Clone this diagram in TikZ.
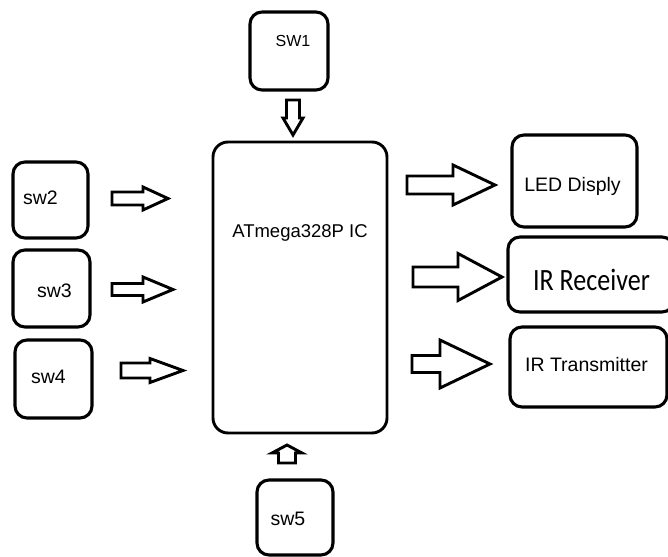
\documentclass[tikz,border=0pt]{standalone}
\usepackage{fontspec}
\setmainfont{Liberation Sans}
\newfontfamily\carlito{Carlito}
\usepackage{graphicx}
\tikzset{
  box/.style={draw=black, line width=3.1pt, rounded corners=12pt, fill=white, inner sep=0pt},
  mainbox/.style={draw=black, line width=2.9pt, rounded corners=15pt, inner sep=0pt},
  lbl/.style={inner sep=0pt, font=\fontsize{19.5}{22}\selectfont},
  barrow/.style={draw=black, line width=2.9pt, line join=miter, fill=white}
}
\newcommand\blkarrow[7]{%
  \begin{scope}[shift={(#1,#2)}, rotate=#3]
    \draw[barrow] (0,-#6) -- (#4,-#6) -- (#4,-#7) -- (#4+#5,0) -- (#4,#7) -- (#4,#6) -- (0,#6) -- cycle;
  \end{scope}}
\begin{document}
\begin{tikzpicture}[x=1pt,y=-1pt]
\useasboundingbox (0,0) rectangle (668,556);
\clip (0,0) rectangle (668,556);
\fill[white] (0,0) rectangle (668,556);
% main IC
\node[mainbox, minimum width=174pt, minimum height=291pt] (ic) at (300,287.5) {};
\node[lbl, font=\fontsize{18.5}{22}\selectfont] (ict) at (300,233) {ATmega328P IC};
% switches
\node[box, minimum width=78pt, minimum height=78pt] (sw1) at (289,51) {};
\node[lbl, font=\fontsize{16}{18}\selectfont] (sw1t) at (293,41) {SW1};
\node[box, minimum width=75pt, minimum height=76pt] (sw2) at (50.5,200) {};
\node[lbl] (sw2t) at (40.5,198) {sw2};
\node[box, minimum width=77pt, minimum height=77pt] (sw3) at (51.5,288.5) {};
\node[lbl] (sw3t) at (54.5,291) {sw3};
\node[box, minimum width=77pt, minimum height=78pt] (sw4) at (53.5,379) {};
\node[lbl] (sw4t) at (48.5,377) {sw4};
\node[box, minimum width=76pt, minimum height=75pt] (sw5) at (295,517.5) {};
\node[lbl] (sw5t) at (288,519) {sw5};
% outputs
\node[box, minimum width=125pt, minimum height=92pt] (led) at (574.5,181) {};
\node[lbl] (ledt) at (572.5,186) {LED Disply};
\node[box, minimum width=166pt, minimum height=75pt] (irr) at (591,274.5) {};
\node[inner sep=0pt] (irrt) at (591.5,280) {\carlito\fontsize{31}{35}\selectfont\scalebox{0.84}[1]{IR Receiver}};
\node[box, minimum width=157pt, minimum height=80pt] (irtx) at (588.5,367) {};
\node[lbl] (irtxt) at (586.5,365) {IR Transmitter};
% block arrows
\blkarrow{112}{198.5}{0}{31}{25}{6.5}{11.5}
\blkarrow{112}{289.5}{0}{31}{30}{6}{12.5}
\blkarrow{121}{370.5}{0}{29}{33}{7.5}{12}
\blkarrow{407}{185}{0}{46}{42}{9}{20}
\blkarrow{413}{277}{0}{45}{44}{10}{23.5}
\blkarrow{412}{364}{0}{28}{50}{8.5}{24}
\blkarrow{293}{100}{-90}{18}{17}{6.5}{10}
\blkarrow{287}{463}{90}{10}{8}{8.5}{15}
\end{tikzpicture}
\end{document}
